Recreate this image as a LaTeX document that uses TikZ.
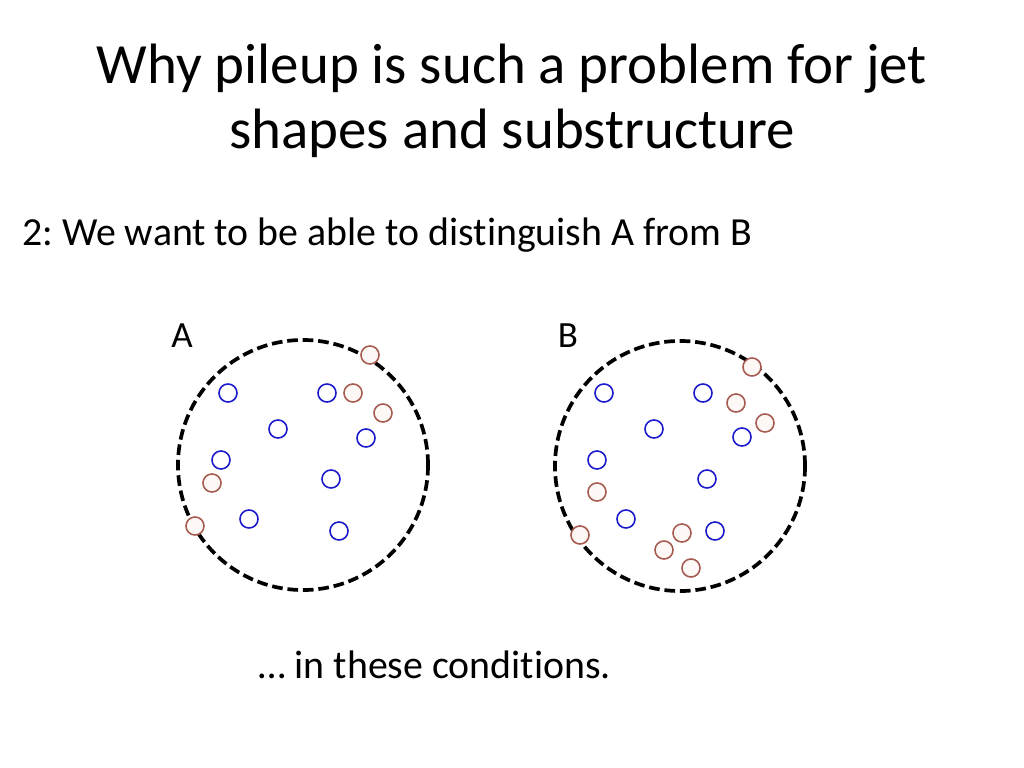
\documentclass[tikz,border=0pt]{standalone}
\usepackage{fontspec}
\setmainfont{Carlito}[Ligatures=NoCommon]
\usetikzlibrary{positioning}
\definecolor{ink}{HTML}{000000}
\definecolor{hadron}{HTML}{1A1ACC}
\definecolor{pileup}{HTML}{A65A50}
\definecolor{pufill}{HTML}{FDF8F6}
\tikzset{
  jet/.style={circle, draw=ink, line width=2.6pt, dash pattern=on 7.5pt off 3.4pt, minimum size=175.8pt, inner sep=0pt},
  dot/.style={circle, line width=1.1pt, minimum size=12.7pt, inner sep=0pt},
  hard/.style={dot, draw=hadron, fill=white},
  soft/.style={dot, draw=pileup, fill=pufill},
  head/.style={font=\fontsize{40}{44}\selectfont, text=ink, inner sep=0pt},
  body/.style={font=\fontsize{28}{34}\selectfont, text=ink, inner sep=0pt},
  tag/.style={font=\fontsize{26}{30}\selectfont, text=ink, inner sep=0pt},
}
\frenchspacing
\begin{document}
\begin{tikzpicture}[x=0.7031pt, y=-0.7031pt]
    \useasboundingbox[fill=white] (0,0) rectangle (1024,768);
    \node[head, anchor=base] (title) at (512,83) {Why pileup is such a problem for jet};
    \node[head, anchor=base] (title2) at (512,148) {shapes and substructure};
    \node[body, anchor=base west] (point) at (22,245) {2: We want to be able to distinguish A from B};
    % the two jets
    \node[jet] (ja) at (303,465) {};
    \node[jet] (jb) at (680,466) {};
    \node[tag, anchor=base] (la) at (182,347) {A};
    \node[tag, anchor=base] (lb) at (568,347) {B};
    % jet A
    \foreach \x/\y [count=\i] in {228/393,327/393,278/429,366/438,221/460,331/479,249/519,339/531}
      \node[hard] (ha\i) at (\x,\y) {};
    \foreach \x/\y [count=\i] in {370/355,353/393,383/413,212/483,195/526}
      \node[soft] (sa\i) at (\x,\y) {};
    % jet B
    \foreach \x/\y [count=\i] in {604/393,703/393,654/429,742/437,597/460,707/479,626/519,715/531}
      \node[hard] (hb\i) at (\x,\y) {};
    \foreach \x/\y [count=\i] in {752/367,736/403,765/423,597/492,580/535,682/533,664/550,691/568}
      \node[soft] (sb\i) at (\x,\y) {};
    \node[body, anchor=base west] (cond) at (258,678) {… in these conditions.};
  \end{tikzpicture}
\end{document}
